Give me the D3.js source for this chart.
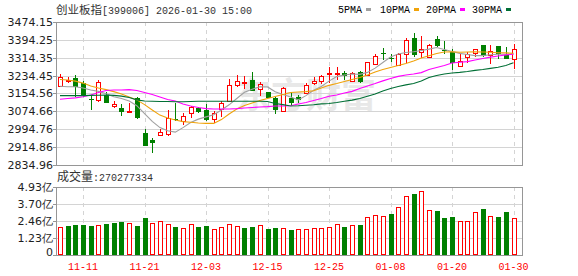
<!DOCTYPE html>
<html>
<head>
<meta charset="utf-8">
<script src="https://cdn.jsdelivr.net/npm/d3@7/dist/d3.min.js"></script>
<style>
body{margin:0;background:#fff;}
svg{display:block;}
</style>
</head>
<body>
<div class="chart"></div>
<script>
(function(){

//trading days shown
var dates = ["11-06","11-07","11-10","11-11","11-12","11-13","11-14","11-17","11-18","11-19",
             "11-20","11-21","11-24","11-25","11-26","11-27","11-28","12-01","12-02","12-03",
             "12-04","12-05","12-08","12-09","12-10","12-11","12-12","12-15","12-16","12-17",
             "12-18","12-19","12-22","12-23","12-24","12-25","12-26","12-29","12-30","12-31",
             "01-05","01-06","01-07","01-08","01-09","01-12","01-13","01-14","01-15","01-16",
             "01-19","01-20","01-21","01-22","01-23","01-26","01-27","01-28","01-29","01-30"];

var opens  = [3190,3210,3222,3200,3128,3124,3148,3100,3091,3070,
              3136,2977,2947,2969,2972,3042,3033,3066,3088,3081,
              3039,3085,3122,3192,3205,3215,3176,3161,3136,3076,
              3136,3139,3158,3200,3210,3243,3245,3245,3212,3250,
              3237,3285,3334,3314,3282,3331,3401,3342,3319,3398,
              3348,3342,3277,3319,3334,3371,3327,3367,3327,3307];
var highs  = [3240,3230,3238,3212,3150,3217,3163,3120,3108,3111,
              3140,2996,2954,2994,3081,3114,3069,3099,3093,3108,
              3078,3123,3218,3237,3233,3249,3207,3161,3140,3185,
              3163,3150,3200,3230,3237,3272,3272,3257,3252,3257,
              3297,3330,3356,3331,3334,3401,3426,3412,3376,3412,
              3389,3352,3330,3342,3352,3371,3371,3367,3361,3376];
var lows   = [3185,3200,3140,3140,3081,3115,3113,3088,3055,3066,
              3041,2920,2890,2966,2965,3033,3014,3044,3069,3033,
              3024,3051,3122,3182,3173,3167,3143,3133,3061,3073,
              3103,3114,3158,3192,3197,3200,3215,3215,3210,3200,
              3233,3282,3304,3297,3282,3289,3316,3312,3315,3364,
              3331,3260,3277,3289,3319,3319,3285,3307,3307,3263];
var closes = [3227,3213,3185,3145,3126,3205,3114,3108,3073,3076,
              3044,2921,2932,2981,3046,3034,3054,3093,3073,3036,
              3066,3111,3192,3210,3208,3167,3196,3136,3081,3178,
              3111,3124,3191,3210,3233,3246,3248,3233,3248,3204,
              3297,3322,3331,3311,3331,3394,3327,3352,3371,3367,
              3346,3289,3300,3331,3352,3322,3346,3330,3309,3352];

//volume, unit 亿
var volumes = [2.01,2.13,2.20,2.20,2.13,2.18,2.27,2.34,2.42,2.34,
               2.13,2.70,2.34,2.47,2.25,2.06,1.96,2.25,2.06,2.13,
               1.89,2.03,2.25,2.11,1.98,2.03,2.18,1.89,1.98,1.96,
               1.84,1.89,1.89,1.96,1.96,2.03,2.25,2.03,2.18,2.20,
               2.75,2.90,2.82,2.99,3.47,4.26,4.41,4.62,3.26,3.21,
               2.68,2.75,2.47,2.47,3.11,3.33,2.82,2.75,3.13,2.70277334];

//moving averages
var ma5  = [3187,3185,3185,3179,3170,3164,3153,3140,3132,3121,
            3100,3065,3030,3002,2988,2982,3002,3025,3040,3050,
            3060,3081,3104,3132,3160,3174,3185,3184,3162,3150,
            3139,3126,3145,3169,3186,3210,3230,3237,3242,3240,
            3249,3268,3293,3318,3331,3338,3341,3347,3353,3360,
            3351,3342,3334,3329,3324,3324,3328,3330,3330,3331];
var ma10 = [3217,3215,3210,3201,3188,3179,3172,3163,3152,3139,
            3126,3105,3081,3058,3045,3036,3029,3026,3023,3021,
            3021,3038,3063,3085,3101,3112,3123,3132,3141,3150,
            3159,3161,3163,3167,3179,3191,3199,3208,3217,3226,
            3237,3251,3262,3271,3280,3289,3300,3313,3323,3333,
            3340,3341,3339,3340,3341,3340,3339,3337,3336,3334];
var ma20 = [3129,3132,3135,3140,3148,3159,3168,3170,3170,3172,
            3168,3159,3150,3139,3128,3121,3108,3099,3092,3087,
            3085,3085,3085,3087,3090,3092,3094,3096,3099,3099,
            3100,3108,3114,3123,3132,3142,3148,3157,3164,3177,
            3188,3199,3211,3222,3231,3237,3242,3248,3262,3271,
            3280,3291,3294,3297,3304,3311,3317,3322,3327,3330];
var ma30 = [3145,3145,3145,3145,3146,3147,3148,3146,3143,3137,
            3126,3121,3120,3119,3119,3118,3118,3119,3120,3120,
            3120,3120,3120,3120,3120,3120,3120,3119,3110,3105,
            3099,3100,3102,3104,3108,3110,3114,3120,3125,3132,
            3142,3152,3166,3177,3186,3193,3199,3210,3226,3235,
            3242,3246,3249,3253,3258,3262,3267,3272,3280,3292];

//axis labels
var priceTicks = ["3474.15","3394.25","3314.35","3234.45","3154.56","3074.66","2994.76","2914.86","2834.96"];
var volTicks = ["0","1.23","2.46","3.70","4.93"];
var dateTicks = ["11-11","11-21","12-03","12-15","12-25","01-08","01-20","01-30"];

var maNames = ["5PMA","10PMA","20PMA","30PMA"];
var maColors = ["#a0a0a0","#f0a30a","#ff00ff","#006f35"];
var maSeries = [ma5, ma10, ma20, ma30];

var upColor = "#ff0000",
    downColor = "#008000",
    gridColor = "#d4d4d4",
    frameColor = "#969696";

window.onload = drawChart();

function drawChart(){

    var width = 578,
        height = 276;

    var left = 56, right = 522;
    var pTop = 22, pBottom = 165;
    var vTop = 187, vBottom = 255;

    var svg = d3.select(".chart")
        .append("svg")
        .attr("width", width)
        .attr("height", height);

    var x = d3.scalePoint()
        .domain(dates)
        .range([60, 513.5]);

    var y = d3.scaleLinear()
        .domain([+priceTicks[priceTicks.length - 1], +priceTicks[0]])
        .range([pBottom, pTop]);

    var yv = d3.scaleLinear()
        .domain([0, +volTicks[volTicks.length - 1]])
        .range([vBottom, vTop]);

    function px(d){ return Math.round(x(d)); }

    //watermark
    svg.append("text")
        .attr("x", 236)
        .attr("y", 108)
        .style("font-family", "'Noto Sans CJK SC'")
        .style("font-size", "35px")
        .style("font-weight", "bold")
        .style("fill", "#e8e8e8")
        .text("东方财富");

    //gridlines, price panel
    drawGrid(priceTicks.map(function(t){ return y(+t); }), pTop, pBottom);
    //gridlines, volume panel
    drawGrid(volTicks.map(function(t){ return yv(+t); }), vTop, vBottom);

    function drawGrid(ys, top, bottom){
        svg.append("g")
            .selectAll("line")
            .data(ys.slice(1, ys.length - 1))
            .enter()
            .append("line")
            .attr("x1", left)
            .attr("x2", right)
            .attr("y1", function(d){ return Math.round(d) + 0.5; })
            .attr("y2", function(d){ return Math.round(d) + 0.5; })
            .style("stroke", gridColor);

        svg.append("g")
            .selectAll("line")
            .data(dateTicks)
            .enter()
            .append("line")
            .attr("x1", function(d){ return px(d) + 0.5; })
            .attr("x2", function(d){ return px(d) + 0.5; })
            .attr("y1", top)
            .attr("y2", bottom)
            .style("stroke", gridColor)
            .style("stroke-dasharray", "4,4");

        svg.append("rect")
            .attr("x", left + 0.5)
            .attr("y", top + 0.5)
            .attr("width", right - left)
            .attr("height", bottom - top)
            .style("fill", "none")
            .style("stroke", frameColor);
    }

    //left axis labels
    var labelFont = "'DejaVu Sans', sans-serif";

    svg.append("g")
        .selectAll("text")
        .data(priceTicks)
        .enter()
        .append("text")
        .attr("x", 53)
        .attr("y", function(d){ return y(+d); })
        .attr("dy", "0.36em")
        .attr("text-anchor", "end")
        .style("font-family", labelFont)
        .style("font-size", "11px")
        .style("fill", "#1e1e1e")
        .text(function(d){ return d; });

    svg.append("g")
        .selectAll("line")
        .data(priceTicks)
        .enter()
        .append("line")
        .attr("x1", 53)
        .attr("x2", left)
        .attr("y1", function(d){ return Math.round(y(+d)) + 0.5; })
        .attr("y2", function(d){ return Math.round(y(+d)) + 0.5; })
        .style("stroke", frameColor);

    svg.append("g")
        .selectAll("text")
        .data(volTicks)
        .enter()
        .append("text")
        .attr("x", 53)
        .attr("y", function(d){ return +d === 0 ? yv(0) - 3 : yv(+d); })
        .attr("dy", "0.36em")
        .attr("text-anchor", "end")
        .style("font-family", labelFont)
        .style("font-size", "11px")
        .style("fill", "#1e1e1e")
        .text(function(d){ return +d === 0 ? d : d + "亿"; });

    svg.append("g")
        .selectAll("line")
        .data(volTicks)
        .enter()
        .append("line")
        .attr("x1", 53)
        .attr("x2", left)
        .attr("y1", function(d){ return Math.round(yv(+d)) + 0.5; })
        .attr("y2", function(d){ return Math.round(yv(+d)) + 0.5; })
        .style("stroke", frameColor);

    //date labels
    svg.append("g")
        .selectAll("text")
        .data(dateTicks)
        .enter()
        .append("text")
        .attr("x", function(d){ return x(d); })
        .attr("y", 270)
        .attr("text-anchor", "middle")
        .style("font-family", "'Liberation Mono', monospace")
        .style("font-size", "10px")
        .style("fill", upColor)
        .text(function(d){ return d; });

    //candles
    var idx = d3.range(dates.length);

    var candles = svg.append("g")
        .selectAll("g")
        .data(idx)
        .enter()
        .append("g");

    candles.append("line")
        .attr("x1", function(i){ return px(dates[i]) + 0.5; })
        .attr("x2", function(i){ return px(dates[i]) + 0.5; })
        .attr("y1", function(i){ return Math.round(y(highs[i])); })
        .attr("y2", function(i){ return Math.round(y(lows[i])); })
        .style("stroke", function(i){ return closes[i] >= opens[i] ? upColor : downColor; });

    candles.append("rect")
        .attr("x", function(i){
            return closes[i] >= opens[i] ? px(dates[i]) - 1.5 : px(dates[i]) - 2;
        })
        .attr("y", function(i){
            var t = Math.round(y(Math.max(opens[i], closes[i])));
            return closes[i] >= opens[i] ? t + 0.5 : t;
        })
        .attr("width", function(i){ return closes[i] >= opens[i] ? 4 : 5; })
        .attr("height", function(i){
            var h = Math.round(y(Math.min(opens[i], closes[i]))) - Math.round(y(Math.max(opens[i], closes[i])));
            return Math.max(h, 1);
        })
        .style("fill", function(i){ return closes[i] >= opens[i] ? "#fff" : downColor; })
        .style("stroke", function(i){ return closes[i] >= opens[i] ? upColor : "none"; });

    //moving average lines
    maSeries.forEach(function(series, k){
        var line = d3.line()
            .x(function(d, i){ return x(dates[i]); })
            .y(function(d){ return y(d); });
        svg.append("path")
            .datum(series)
            .attr("d", line)
            .style("fill", "none")
            .style("stroke", maColors[k])
            .style("stroke-width", 1.1);
    });

    //volume bars, coloured by change against previous close
    function volUp(i){
        return i === 0 ? closes[i] >= opens[i] : closes[i] >= closes[i - 1];
    }

    svg.append("g")
        .selectAll("rect")
        .data(idx)
        .enter()
        .append("rect")
        .attr("x", function(i){ return volUp(i) ? px(dates[i]) - 1.5 : px(dates[i]) - 2; })
        .attr("y", function(i){
            var t = Math.round(yv(volumes[i]));
            return volUp(i) ? t + 0.5 : t;
        })
        .attr("width", function(i){ return volUp(i) ? 4 : 5; })
        .attr("height", function(i){
            var h = vBottom - Math.round(yv(volumes[i]));
            return volUp(i) ? h - 1 : h;
        })
        .style("fill", function(i){ return volUp(i) ? "#fff" : downColor; })
        .style("stroke", function(i){ return volUp(i) ? upColor : "none"; });

    //header
    var title = svg.append("text")
        .attr("x", 56)
        .attr("y", 14)
        .style("fill", "#333");
    title.append("tspan")
        .style("font-family", "'Noto Sans CJK SC'")
        .style("font-size", "11.5px")
        .text("创业板指");
    title.append("tspan")
        .style("font-family", "'Liberation Mono', monospace")
        .style("font-size", "10px")
        .text("[399006] 2026-01-30 15:00");

    //legend
    var legendX = [338, 380, 426, 472];
    var legend = svg.append("g")
        .selectAll("g")
        .data(maNames)
        .enter()
        .append("g");

    legend.append("text")
        .attr("x", function(d, k){ return legendX[k]; })
        .attr("y", 13)
        .style("font-family", "'Liberation Mono', monospace")
        .style("font-size", "10px")
        .style("fill", "#000")
        .text(function(d){ return d; });

    legend.append("rect")
        .attr("x", function(d, k){ return legendX[k] + d.length * 6 + 4; })
        .attr("y", 8)
        .attr("width", 5)
        .attr("height", 3)
        .style("fill", function(d, k){ return maColors[k]; });

    //volume header
    var vt = svg.append("text")
        .attr("x", 57)
        .attr("y", 181)
        .style("fill", "#333");
    vt.append("tspan")
        .style("font-family", "'Noto Sans CJK SC'")
        .style("font-size", "12px")
        .text("成交量");
    vt.append("tspan")
        .style("font-family", "'Liberation Mono', monospace")
        .style("font-size", "10px")
        .text(":" + Math.round(volumes[volumes.length - 1] * 1e8));
};

})();
</script>
</body>
</html>
